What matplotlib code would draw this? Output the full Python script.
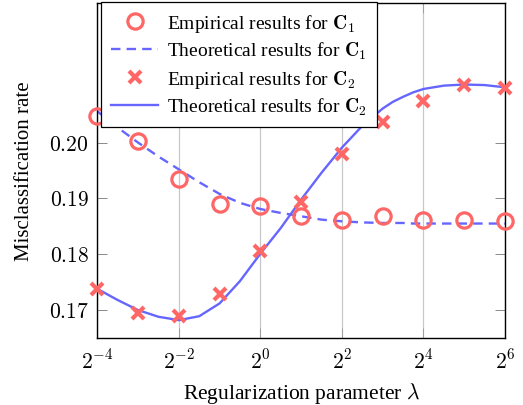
import numpy as np
import matplotlib
matplotlib.use("Agg")
import matplotlib.pyplot as plt
from matplotlib.ticker import FixedLocator, FixedFormatter, NullLocator

plt.rcParams['font.family'] = ['Liberation Serif', 'DejaVu Serif']
plt.rcParams['mathtext.fontset'] = 'cm'

# Données
emp_exp = [-4, -3, -2, -1, 0, 1, 2, 3, 4, 5, 6]
emp_c1 = [0.2047, 0.2002, 0.1934, 0.1890, 0.1887, 0.1868, 0.1861, 0.1869, 0.1861, 0.1861, 0.1859]
emp_c2 = [0.1737, 0.1695, 0.1690, 0.1728, 0.1806, 0.1893, 0.1980, 0.2036, 0.2074, 0.2104, 0.2098]

theo_exp = [-4, -3.5, -3, -2.5, -2, -1.5, -1, -0.5, 0, 0.5, 1, 1.5, 2, 2.5, 3, 3.25, 3.5, 3.75,
            4, 4.5, 5, 5.5, 6]
theo_c1 = [0.2056, 0.2027, 0.2000, 0.1975, 0.1952, 0.1929, 0.1908, 0.1892, 0.1881, 0.1874, 0.1868,
           0.1862, 0.1859, 0.1857, 0.1856, 0.1856, 0.1856, 0.1855, 0.1855, 0.1855, 0.1855, 0.1855,
           0.1855]
theo_c2 = [0.1738, 0.1718, 0.1700, 0.1688, 0.1682, 0.1689, 0.1712, 0.1752, 0.1801, 0.1847, 0.1898,
           0.1946, 0.1991, 0.2030, 0.2061, 0.2073, 0.2082, 0.2090, 0.2096, 0.2102, 0.2104, 0.2103,
           0.2099]

xtick_exp = [-4, -2, 0, 2, 4, 6]
xtick_labels = ['$2^{-4}$', '$2^{-2}$', '$2^{0}$', '$2^{2}$', '$2^{4}$', '$2^{6}$']
ytick_vals = [0.17, 0.18, 0.19, 0.20]
ytick_labels = ['$0.17$', '$0.18$', '$0.19$', '$0.20$']

RED = '#ff6666'
BLUE = '#6666ff'

emp_lam = 2.0 ** np.array(emp_exp)
theo_lam = 2.0 ** np.array(theo_exp)

fig = plt.figure(figsize=(5.23, 4.06), dpi=100)
ax = fig.add_axes([97.3 / 523, 1 - 339 / 406, (505 - 97.3) / 523, (339 - 4) / 406])

ax.set_xscale('log', base=2)
ax.set_xlim(2.0 ** -4, 2.0 ** 6)
ax.set_ylim(0.165, 0.225)

# grille verticale
for e in xtick_exp:
    ax.axvline(2.0 ** e, color='#c8c8c8', lw=0.9, zorder=0)

# le \quad final élargit le cadre de la légende à droite comme dans l'original
ax.plot(emp_lam, emp_c1, 'o', ms=11, mfc='none', mec=RED, mew=2.3,
        clip_on=False, zorder=3, label=r'Empirical results for $\mathbf{C}_1$')
ax.plot(theo_lam, theo_c1, '--', color=BLUE, lw=1.7, dashes=(4, 2.6),
        zorder=2, label=r'Theoretical results for $\mathbf{C}_1\quad$')
ax.plot(emp_lam, emp_c2, 'x', ms=8, mec=RED, mew=3,
        clip_on=False, zorder=3, label=r'Empirical results for $\mathbf{C}_2$')
ax.plot(theo_lam, theo_c2, '-', color=BLUE, lw=1.7,
        zorder=2, label=r'Theoretical results for $\mathbf{C}_2$')

ax.xaxis.set_major_locator(FixedLocator([2.0 ** e for e in xtick_exp]))
ax.xaxis.set_major_formatter(FixedFormatter(xtick_labels))
ax.xaxis.set_minor_locator(NullLocator())
ax.yaxis.set_major_locator(FixedLocator(ytick_vals))
ax.yaxis.set_major_formatter(FixedFormatter(ytick_labels))

ax.tick_params(axis='y', direction='in', length=7, width=0.6, left=True, right=True,
               labelsize=15.5, pad=6, color='#777777')
ax.tick_params(axis='x', direction='in', length=7, width=0.6, top=True, bottom=True,
               labelsize=15.5, pad=8, color='#999999')
for s in ax.spines.values():
    s.set_linewidth(1.0)

ax.set_xlabel(r'Regularization parameter $\lambda$', fontsize=15.5, labelpad=5)
ax.set_ylabel('Misclassification rate', fontsize=15, labelpad=11)

leg = ax.legend(loc='upper left', bbox_to_anchor=(0.01, 1.004), borderaxespad=0,
                fontsize=14, frameon=True, fancybox=False, framealpha=1,
                edgecolor='black', handlelength=2.4, handletextpad=0.45,
                labelspacing=0.32, borderpad=0.52)
leg.get_frame().set_linewidth(0.9)
leg.set_zorder(5)

fig.savefig('out.png', dpi=100)
